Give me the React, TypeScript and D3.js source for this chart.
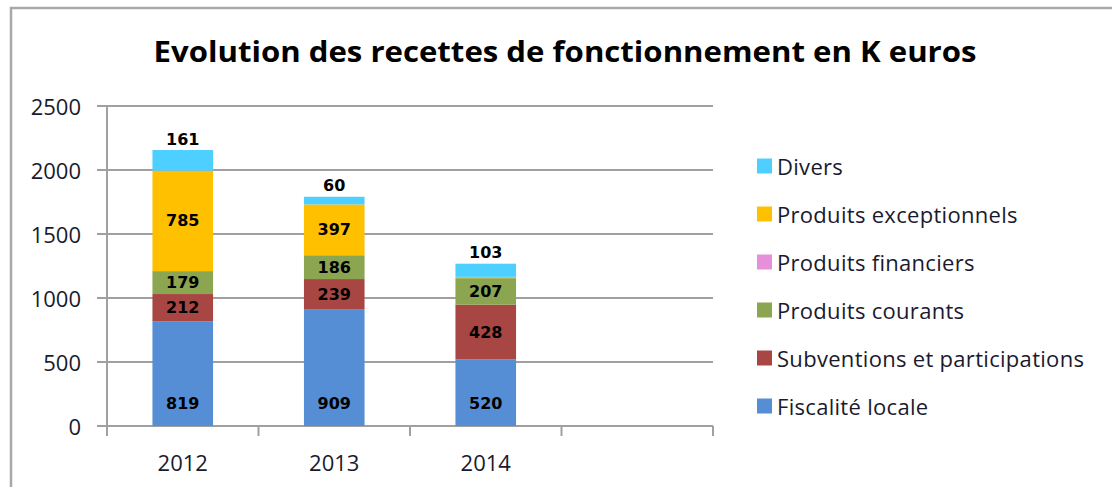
import React from 'react';
import * as d3 from 'd3';

const title = 'Evolution des recettes de fonctionnement en K euros';
const categories = ['2012', '2013', '2014'];
const emptySlot = ' ';
const fiscaliteLocale = [819, 909, 520];
const subventions = [212, 239, 428];
const produitsCourants = [179, 186, 207];
const produitsFinanciers = [0, 0, 0];
const produitsExceptionnels = [785, 397, 10];
const divers = [161, 60, 103];
const yTicks = [0, 500, 1000, 1500, 2000, 2500];

const seriesNames = [
  'Fiscalité locale',
  'Subventions et participations',
  'Produits courants',
  'Produits financiers',
  'Produits exceptionnels',
  'Divers',
];
const seriesValues = [fiscaliteLocale, subventions, produitsCourants, produitsFinanciers, produitsExceptionnels, divers];
const seriesColors = ['#558ED5', '#A84644', '#8CA550', '#E690DC', '#FFC000', '#4DCFFF'];

export default function App() {
  const W = 1112;
  const H = 487;
  const plotLeft = 107;
  const plotRight = 713;
  const plotTop = 106;
  const plotBottom = 426;

  const rows = categories.map((c, i) => {
    const r: any = { cat: c };
    seriesNames.forEach((s, j) => (r[s] = seriesValues[j][i]));
    return r;
  });
  const stacked = d3.stack<any>().keys(seriesNames)(rows);

  const x = d3
    .scaleBand<string>()
    .domain([...categories, emptySlot])
    .range([plotLeft, plotRight])
    .paddingInner(0.6)
    .paddingOuter(0.3);
  const y = d3.scaleLinear().domain([0, 2500]).range([plotBottom, plotTop]);
  const step = x.step();
  const boundaries = d3.range(0, categories.length + 2).map((i) => plotLeft + i * step);

  const grid = '#A0A0A0';
  const axisFont = "'Open Sans', sans-serif";
  const labelFont = "'DejaVu Sans', sans-serif";

  return (
    <svg width={W} height={H} style={{ position: 'absolute', left: 0, top: 0, background: '#fff' }}>
      <rect x={0} y={0} width={W} height={H} fill="#fff" />
      <rect x={11} y={8} width={W + 20} height={H + 20} fill="none" stroke="#A8A8A8" strokeWidth={2.5} />
      <text
        x={565}
        y={50}
        textAnchor="middle"
        dominantBaseline="central"
        fontFamily={axisFont}
        fontWeight="bold"
        fontSize={29}
        textLength={823}
        lengthAdjust="spacingAndGlyphs"
        fill="#000"
      >
        {title}
      </text>

      {yTicks.map((t) => (
        <g key={t}>
          <line x1={plotLeft - 10} x2={plotRight} y1={y(t)} y2={y(t)} stroke={grid} strokeWidth={2} />
          <text
            x={81}
            y={y(t)}
            textAnchor="end"
            dominantBaseline="central"
            fontFamily={axisFont}
            fontSize={22}
            fill="#1a1a2e"
          >
            {t}
          </text>
        </g>
      ))}
      <line x1={plotLeft} x2={plotLeft} y1={plotTop} y2={plotBottom + 10} stroke={grid} strokeWidth={2} />
      {boundaries.map((b, i) => (
        <line key={i} x1={b} x2={b} y1={plotBottom} y2={plotBottom + 10} stroke={grid} strokeWidth={2} />
      ))}

      {stacked.map((layer, j) => (
        <g key={layer.key}>
          {layer.map((d, i) => {
            const v = seriesValues[j][i];
            if (!v) return null;
            const x0 = x(categories[i])!;
            const y0 = y(d[1]);
            const h = y(d[0]) - y(d[1]);
            return <rect key={i} x={x0} y={y0} width={x.bandwidth()} height={h} fill={seriesColors[j]} />;
          })}
        </g>
      ))}

      {stacked.map((layer, j) =>
        layer.map((d, i) => {
          const v = seriesValues[j][i];
          if (!v) return null;
          const cx = x(categories[i])! + x.bandwidth() / 2;
          const isTop = j === seriesNames.length - 1;
          if (!isTop && v < 50) return null;
          let cy = (y(d[0]) + y(d[1])) / 2;
          if (isTop) cy = y(d[1]) - 11;
          else if (j === 0) cy = y(d[0]) - 23;
          return (
            <text
              key={`${j}-${i}`}
              x={cx}
              y={cy}
              textAnchor="middle"
              dominantBaseline="central"
              fontFamily={labelFont}
              fontWeight="bold"
              fontSize={16}
              fill="#000"
            >
              {v}
            </text>
          );
        })
      )}

      {categories.map((c) => (
        <text
          key={c}
          x={x(c)! + x.bandwidth() / 2}
          y={462}
          textAnchor="middle"
          dominantBaseline="central"
          fontFamily={axisFont}
          fontSize={22}
          fill="#1a1a2e"
        >
          {c}
        </text>
      ))}

      {seriesNames
        .map((s, j) => ({ s, j }))
        .reverse()
        .map(({ s, j }, k) => {
          const cy = 166 + k * 48;
          return (
            <g key={s}>
              <rect x={757} y={cy - 7.5} width={15} height={15} fill={seriesColors[j]} />
              <text
                x={777}
                y={cy}
                dominantBaseline="central"
                fontFamily={axisFont}
                fontSize={22}
                letterSpacing={0.3}
                fill="#1a1a2e"
              >
                {s}
              </text>
            </g>
          );
        })}
    </svg>
  );
}
